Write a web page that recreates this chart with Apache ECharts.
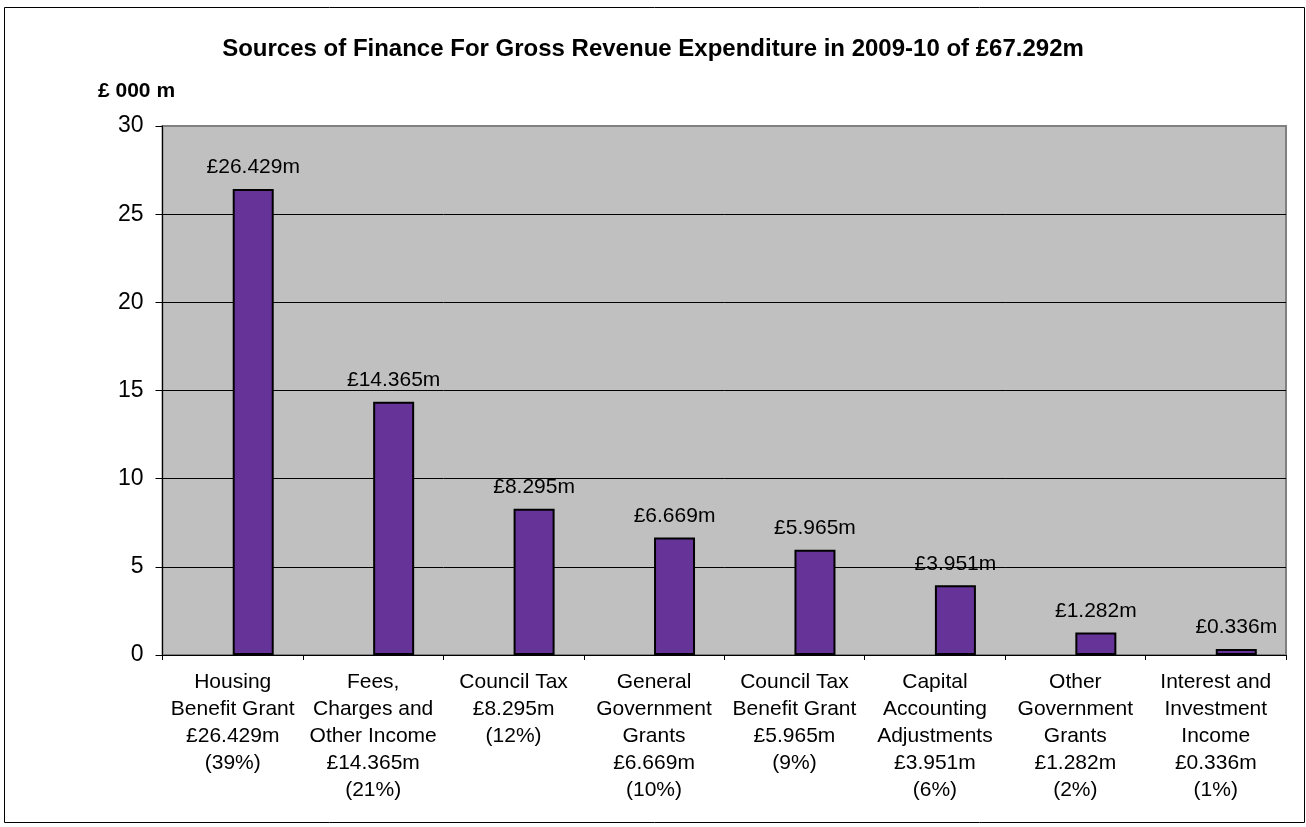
<!DOCTYPE html>
<html>
<head>
<meta charset="utf-8">
<script src="https://cdn.jsdelivr.net/npm/echarts@6/dist/echarts.min.js"></script>
<style>
  html, body { margin: 0; padding: 0; background: #fff; }
  #chart { width: 1306px; height: 827px; }
</style>
</head>
<body>
<div id="chart"></div>
<script>
// category names (line breaks as in the original)
const categories = [
  'Housing\nBenefit Grant',
  'Fees,\nCharges and\nOther Income',
  'Council Tax',
  'General\nGovernment\nGrants',
  'Council Tax\nBenefit Grant',
  'Capital\nAccounting\nAdjustments',
  'Other\nGovernment\nGrants',
  'Interest and\nInvestment\nIncome'
]
const values = [26.429, 14.365, 8.295, 6.669, 5.965, 3.951, 1.282, 0.336]
const percents = [39, 21, 12, 10, 9, 6, 2, 1]
const yTicks = [0, 5, 10, 15, 20, 25, 30]

const font = '"Liberation Sans", Arial, sans-serif'
const chart = echarts.init(document.getElementById('chart'))

chart.setOption({
  animation: false,
  textStyle: { fontFamily: font },
  title: [
    {
      text: 'Sources of Finance For Gross Revenue Expenditure in 2009-10 of £67.292m',
      left: 'center',
      top: 32,
      textStyle: { fontFamily: font, fontSize: 24, fontWeight: 'bold', color: '#000' }
    },
    {
      text: '£ 000 m',
      left: 93,
      top: 76,
      textStyle: { fontFamily: font, fontSize: 21, fontWeight: 'bold', color: '#000' }
    }
  ],
  grid: {
    left: 162.5,
    top: 126,
    right: 20,
    bottom: 172,
    show: true,
    backgroundColor: '#C0C0C0',
    borderColor: '#808080',
    borderWidth: 2
  },
  xAxis: {
    type: 'category',
    data: categories,
    axisLine: { lineStyle: { color: '#000', width: 1 } },
    axisTick: { show: true, length: 5, lineStyle: { color: '#000' } },
    axisLabel: {
      interval: 0,
      margin: 14,
      fontFamily: font,
      fontSize: 21,
      lineHeight: 27,
      color: '#000',
      formatter: function (name, i) {
        return name + '\n£' + values[i].toFixed(3) + 'm\n(' + percents[i] + '%)'
      }
    }
  },
  yAxis: {
    type: 'value',
    min: yTicks[0],
    max: yTicks[yTicks.length - 1],
    interval: 5,
    axisLine: { show: true, lineStyle: { color: '#000', width: 1 } },
    axisTick: { show: true, inside: false, length: 7, lineStyle: { color: '#000' } },
    axisLabel: { fontFamily: font, fontSize: 23, color: '#000', margin: 19 },
    splitLine: {
      show: true,
      // top line is the grey plot border, not a black gridline
      lineStyle: { color: ['#000', '#000', '#000', '#000', '#000', '#000', '#808080'], width: 1 }
    }
  },
  series: [
    {
      // empty companion series, it pushes the real bars right of the category centre
      name: 'blank',
      type: 'bar',
      data: values.map(() => '-'),
      barWidth: 41,
      barGap: '0%'
    },
    {
      name: 'Finance',
      type: 'bar',
      data: values,
      barWidth: 41,
      barGap: '0%',
      itemStyle: { color: '#663399', borderColor: '#000', borderWidth: 2 },
      label: {
        show: true,
        position: 'top',
        distance: 11,
        fontFamily: font,
        fontSize: 21,
        color: '#000',
        formatter: p => '£' + p.value.toFixed(3) + 'm'
      }
    }
  ],
  graphic: [
    {
      type: 'rect',
      shape: { x: 4.5, y: 7.5, width: 1300, height: 815 },
      style: { fill: 'none', stroke: '#000', lineWidth: 1 },
      silent: true
    }
  ]
})
</script>
</body>
</html>
